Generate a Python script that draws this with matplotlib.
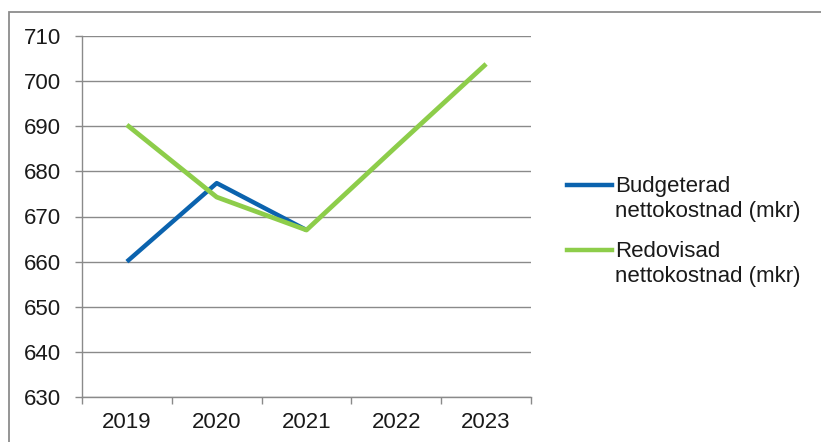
import numpy as np
import matplotlib
matplotlib.use("Agg")
import matplotlib.pyplot as plt
from matplotlib.patches import Rectangle
from matplotlib.lines import Line2D

plt.rcParams['font.family'] = ['Liberation Sans', 'DejaVu Sans']

years = ["2019", "2020", "2021", "2022", "2023"]
budget = [660.0, 677.4, 667.0, None, None]
redovisad = [690.3, 674.3, 667.0, 685.5, 703.8]
labels = ["Budgeterad\nnettokostnad (mkr)", "Redovisad\nnettokostnad (mkr)"]
colors = ["#0B63AE", "#8DCD4A"]

W, H = 821, 442
fig = plt.figure(figsize=(W / 100, H / 100), dpi=100)

# outer chart frame
fig.add_artist(Rectangle((9 / W, -0.1), 1.1, 1 - 12 / H + 0.1, transform=fig.transFigure,
                         fill=False, edgecolor="#8c8c8c", linewidth=1.3))

ax = fig.add_axes([82 / W, 1 - 397 / H, (531 - 82) / W, (397 - 36) / H])

x = np.arange(len(years))
b = np.array([np.nan if v is None else v for v in budget], dtype=float)
ax.plot(x, b, color=colors[0], linewidth=3.2, solid_capstyle="butt", zorder=3)
ax.plot(x, redovisad, color=colors[1], linewidth=3.4, solid_capstyle="butt", zorder=4)

ax.set_xlim(-0.5, len(years) - 0.5)
ax.set_ylim(630, 710)
ax.set_yticks(np.arange(630, 711, 10))
ax.set_xticks(x)
ax.set_xticklabels(years)
ax.set_xticks(np.arange(-0.5, len(years), 1.0), minor=True)

ax.grid(axis="y", color="#8a8a8a", linewidth=1.0)
ax.set_axisbelow(True)
for s in ["top", "right"]:
    ax.spines[s].set_visible(False)
for s in ["left", "bottom"]:
    ax.spines[s].set_color("#8a8a8a")
    ax.spines[s].set_linewidth(1.0)

ax.tick_params(axis="y", length=5, width=1, color="#8a8a8a", pad=10, labelsize=16, labelcolor="#1a1a1a")
ax.tick_params(axis="x", which="major", length=0, pad=11, labelsize=16, labelcolor="#1a1a1a")
ax.tick_params(axis="x", which="minor", length=5, width=1, color="#8a8a8a")

# legend, handle aligned with the first text line
for i, (lab, c) in enumerate(zip(labels, colors)):
    yl = 1 - (185 + 65 * i) / H
    fig.add_artist(Line2D([567 / W, 612 / W], [yl, yl], transform=fig.transFigure,
                          color=c, linewidth=3.2))
    fig.text(615 / W, yl + 9 / H, lab, fontsize=16, color="#1a1a1a", va="top",
             linespacing=1.25)

fig.savefig("out.png", dpi=100)
